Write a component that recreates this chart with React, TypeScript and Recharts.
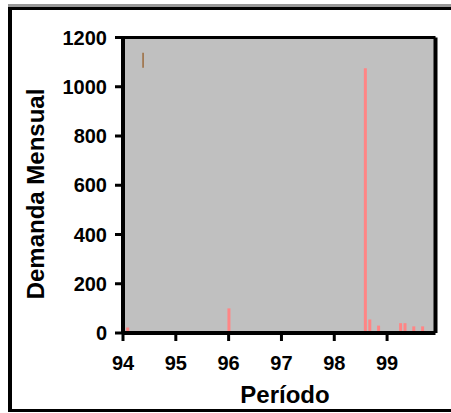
import { BarChart, Bar, XAxis, YAxis, CartesianGrid, ReferenceLine } from 'recharts';

// periodo en años (mes / 12), demanda mensual
const periodos = [94.083, 96.0, 98.583, 98.667, 98.833, 99.25, 99.333, 99.5, 99.667];
const demanda = [22, 100, 1075, 55, 30, 40, 40, 27, 27];
const xTicks = [94, 95, 96, 97, 98, 99];
const yTicks = [0, 200, 400, 600, 800, 1000, 1200];
const xMax = 99.9167;
const yMax = 1200;
// pequeña marca marrón arriba a la izquierda
const marca = [
  { x: 94.38, y: 1077 },
  { x: 94.38, y: 1138 },
];

const data = periodos.map((t, i) => ({ t, v: demanda[i] }));

const FONT = '"Liberation Sans", Arial, sans-serif';
const tickStyle = { fontSize: 20, fontWeight: 'bold', fill: '#000', fontFamily: FONT };

export default function App() {
  return (
    <div style={{ position: 'absolute', left: 0, top: 0, width: 451, height: 413, overflow: 'hidden', background: '#fff' }}>
      <div style={{ position: 'absolute', left: 8, top: 4, width: 443, height: 3, background: '#999' }} />
      <div
        style={{
          position: 'absolute',
          left: 8,
          top: 7,
          width: 500,
          height: 405,
          boxSizing: 'border-box',
          borderTop: '3px solid #000',
          borderLeft: '4px solid #000',
          borderBottom: '3px solid #000',
        }}
      />
      <div style={{ position: 'absolute', left: 0, top: 0 }}>
        <BarChart width={451} height={413} data={data} margin={{ top: 37.5, right: 15.5, bottom: 50, left: 63 }}>
          <CartesianGrid horizontal={false} vertical={false} fill="#c0c0c0" fillOpacity={1} />
          <XAxis
            dataKey="t"
            type="number"
            domain={[94, xMax]}
            ticks={xTicks}
            height={30}
            tickSize={8}
            tickMargin={15}
            axisLine={{ stroke: '#000', strokeWidth: 4 }}
            tickLine={{ stroke: '#000', strokeWidth: 3 }}
            tick={tickStyle}
          />
          <YAxis
            type="number"
            domain={[0, yMax]}
            ticks={yTicks}
            width={60}
            tickSize={8}
            tickMargin={8}
            axisLine={{ stroke: '#000', strokeWidth: 4 }}
            tickLine={{ stroke: '#000', strokeWidth: 3 }}
            tick={tickStyle}
          />
          <Bar dataKey="v" fill="#ff8585" barSize={3} isAnimationActive={false} />
          <ReferenceLine y={yMax} stroke="#000" strokeWidth={3} />
          <ReferenceLine x={xMax} stroke="#000" strokeWidth={4} />
          <ReferenceLine segment={marca} stroke="#9c6b3c" strokeWidth={1.5} />
        </BarChart>
      </div>
      <div
        style={{
          position: 'absolute',
          left: 36,
          top: 193.5,
          transform: 'translate(-50%, -50%) rotate(-90deg)',
          whiteSpace: 'nowrap',
          fontSize: 24,
          fontWeight: 'bold',
          fontFamily: FONT,
          color: '#000',
          lineHeight: 1,
        }}
      >
        Demanda Mensual
      </div>
      <div
        style={{
          position: 'absolute',
          left: 285,
          top: 395,
          transform: 'translate(-50%, -50%)',
          whiteSpace: 'nowrap',
          fontSize: 24,
          fontWeight: 'bold',
          fontFamily: FONT,
          color: '#000',
          lineHeight: 1,
        }}
      >
        Período
      </div>
    </div>
  );
}
